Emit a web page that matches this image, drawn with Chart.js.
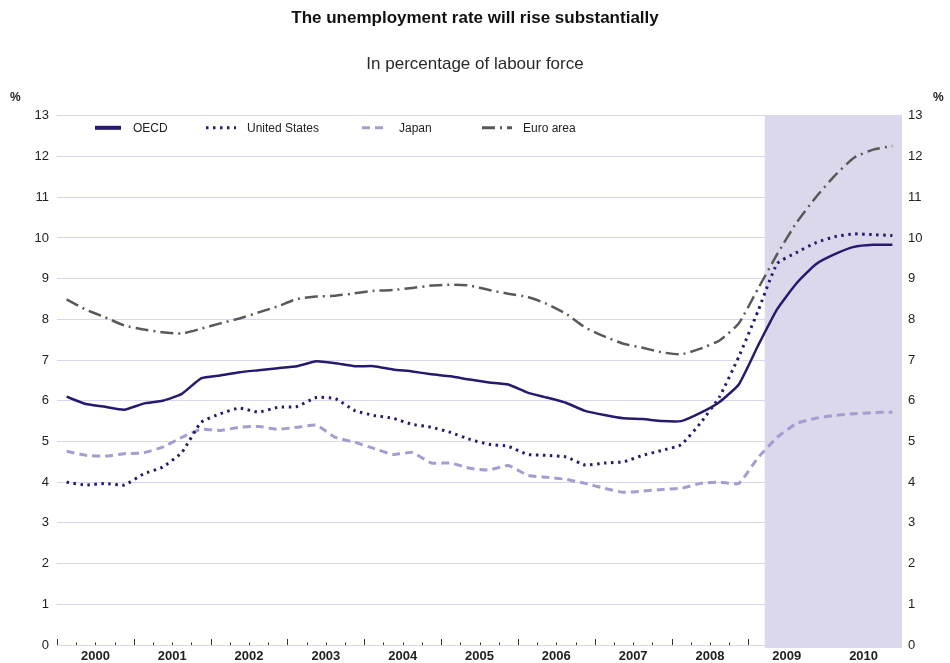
<!DOCTYPE html>
<html>
<head>
<meta charset="utf-8">
<script src="https://cdn.jsdelivr.net/npm/chart.js@4/dist/chart.umd.min.js"></script>
<style>
  html, body { margin: 0; padding: 0; background: #fff; }
  #wrap { width: 950px; height: 663px; }
</style>
</head>
<body>
<div id="wrap"><canvas id="unempChart"></canvas></div>
<script>
// quarterly, 2000Q1 .. 2010Q4 (from 2009 on: projections)
var years = ["2000", "2001", "2002", "2003", "2004", "2005", "2006", "2007", "2008", "2009", "2010"];
var oecd = [6.1, 5.92, 5.85, 5.78, 5.93, 6.0, 6.17, 6.55, 6.62, 6.7, 6.75, 6.8,
            6.85, 6.97, 6.92, 6.85, 6.85, 6.77, 6.72, 6.65, 6.6, 6.52, 6.45, 6.4,
            6.2, 6.08, 5.95, 5.75, 5.65, 5.57, 5.55, 5.5, 5.5, 5.7, 5.97, 6.4,
            7.35, 8.25, 8.88, 9.35, 9.6, 9.78, 9.83, 9.83];
var us = [4.0, 3.93, 3.97, 3.93, 4.2, 4.37, 4.73, 5.47, 5.68, 5.82, 5.72, 5.84,
          5.86, 6.08, 6.05, 5.76, 5.64, 5.57, 5.42, 5.35, 5.22, 5.05, 4.93, 4.88,
          4.68, 4.66, 4.62, 4.42, 4.47, 4.5, 4.66, 4.78, 4.92, 5.45, 6.1, 7.08,
          8.2, 9.37, 9.64, 9.88, 10.03, 10.1, 10.08, 10.06];
var japan = [4.76, 4.66, 4.64, 4.7, 4.72, 4.86, 5.1, 5.3, 5.27, 5.35, 5.37, 5.3,
             5.35, 5.4, 5.1, 4.98, 4.83, 4.68, 4.73, 4.47, 4.47, 4.34, 4.3, 4.41,
             4.17, 4.12, 4.07, 3.97, 3.85, 3.75, 3.78, 3.82, 3.85, 3.97, 4.0, 3.97,
             4.6, 5.1, 5.44, 5.57, 5.64, 5.68, 5.71, 5.72];
var euro = [8.49, 8.24, 8.05, 7.85, 7.75, 7.68, 7.65, 7.77, 7.9, 8.02, 8.17, 8.32,
            8.5, 8.56, 8.58, 8.64, 8.7, 8.72, 8.77, 8.83, 8.85, 8.83, 8.72, 8.63,
            8.55, 8.38, 8.14, 7.8, 7.58, 7.4, 7.3, 7.19, 7.14, 7.28, 7.48, 7.9,
            8.75, 9.6, 10.37, 10.99, 11.53, 11.97, 12.17, 12.26];
var yTicks = [0, 1, 2, 3, 4, 5, 6, 7, 8, 9, 10, 11, 12, 13];
var projStart = 36.85; // shaded projection period starts here (in quarters from 2000Q1)

var navy = "#27196f";
var lilac = "#a49dd0";
var grey = "#595959";
var FONT = "'Liberation Sans', Arial, sans-serif";

function pts(arr) {
   return arr.map(function (v, i) { return { x: i + 0.5, y: v }; });
}

var legendItems = [
   { label: "OECD", color: navy, dash: [], width: 4, x: 38, len: 26, tx: 76 },
   { label: "United States", color: navy, dash: [2.5, 4.5], width: 3, x: 149, len: 30, tx: 190 },
   { label: "Japan", color: lilac, dash: [8, 5], width: 3, x: 305, len: 25, tx: 342 },
   { label: "Euro area", color: grey, dash: [13, 5, 2, 5], width: 3, x: 425, len: 30, tx: 466 }
];

var extras = {
   id: "extras",
   beforeDatasetsDraw: function (chart) {
      var ctx = chart.ctx, a = chart.chartArea, xs = chart.scales.x;
      var x0 = xs.getPixelForValue(projStart);
      ctx.save();
      ctx.fillStyle = "#dcd8ec";
      ctx.fillRect(x0, a.top, a.right - x0, a.bottom - a.top + 3);
      // quarter / year tick marks pointing up from the 0 line
      ctx.strokeStyle = "#333";
      ctx.lineWidth = 1;
      for (var i = 0; i <= 36; i++) {
         var px = Math.round(xs.getPixelForValue(i)) + 0.5;
         var len = i % 4 === 0 ? 6 : 2.5;
         ctx.beginPath();
         ctx.moveTo(px, a.bottom);
         ctx.lineTo(px, a.bottom - len);
         ctx.stroke();
      }
      ctx.restore();
   },
   afterDraw: function (chart) {
      var ctx = chart.ctx, a = chart.chartArea;
      ctx.save();
      ctx.fillStyle = "#222";
      ctx.font = "bold 12px " + FONT;
      ctx.textBaseline = "middle";
      ctx.textAlign = "left";
      ctx.fillText("%", 10, 98);
      ctx.fillText("%", 933, 98);
      // legend inside the plot
      var ly = a.top + 12;
      ctx.font = "12px " + FONT;
      legendItems.forEach(function (it) {
         ctx.save();
         ctx.strokeStyle = it.color;
         ctx.lineWidth = it.width;
         ctx.setLineDash(it.dash);
         ctx.beginPath();
         ctx.moveTo(a.left + it.x, ly);
         ctx.lineTo(a.left + it.x + it.len, ly);
         ctx.stroke();
         ctx.restore();
         ctx.fillStyle = "#222";
         ctx.fillText(it.label, a.left + it.tx, ly + 1);
      });
      ctx.restore();
   }
};

var ctxU = document.getElementById("unempChart").getContext("2d");
var unempChart = new Chart(ctxU, {
   type: "line",
   data: {
      datasets: [
         { label: "OECD", data: pts(oecd), borderColor: navy, borderWidth: 2.5 },
         { label: "United States", data: pts(us), borderColor: navy, borderWidth: 3, borderDash: [2.5, 4.5] },
         { label: "Japan", data: pts(japan), borderColor: lilac, borderWidth: 3, borderDash: [8, 5] },
         { label: "Euro area", data: pts(euro), borderColor: grey, borderWidth: 2.5, borderDash: [13, 5, 2, 5] }
      ]
   },
   options: {
      responsive: true,
      maintainAspectRatio: false,
      animation: false,
      elements: {
         point: { radius: 0 },
         line: { tension: 0.15, fill: false }
      },
      layout: { padding: { left: 0, right: 0, top: 0, bottom: 0 } },
      plugins: {
         legend: { display: false },
         tooltip: { enabled: false },
         title: {
            display: true,
            text: "The unemployment rate will rise substantially",
            color: "#111",
            font: { family: FONT, size: 17, weight: "bold" },
            padding: { top: 8, bottom: 26 }
         },
         subtitle: {
            display: true,
            text: "In percentage of labour force",
            color: "#2a2a2a",
            font: { family: FONT, size: 17 },
            padding: { top: 0, bottom: 41 }
         }
      },
      scales: {
         x: {
            type: "linear",
            min: 0,
            max: 44,
            grid: { display: false, drawTicks: false },
            border: { display: false },
            afterFit: function (s) { s.height = 18; },
            ticks: {
               stepSize: 1,
               autoSkip: false,
               maxRotation: 0,
               padding: 4,
               color: "#222",
               font: { family: FONT, size: 13, weight: "bold" },
               callback: function (v) { return v % 4 === 2 ? years[(v - 2) / 4] : ""; }
            }
         },
         y: {
            position: "left",
            min: 0,
            max: 13,
            afterFit: function (s) { s.width = 57; },
            afterBuildTicks: function (s) { s.ticks = yTicks.map(function (v) { return { value: v }; }); },
            grid: { color: "#d9d6ef", lineWidth: 1, drawTicks: false },
            border: { display: false },
            ticks: { padding: 8, color: "#222", font: { family: FONT, size: 13 } }
         },
         y2: {
            position: "right",
            min: 0,
            max: 13,
            afterFit: function (s) { s.width = 48; },
            afterBuildTicks: function (s) { s.ticks = yTicks.map(function (v) { return { value: v }; }); },
            grid: { display: false, drawTicks: false },
            border: { display: false },
            ticks: { padding: 6, color: "#222", font: { family: FONT, size: 13 } }
         }
      }
   },
   plugins: [extras]
});
</script>
</body>
</html>
